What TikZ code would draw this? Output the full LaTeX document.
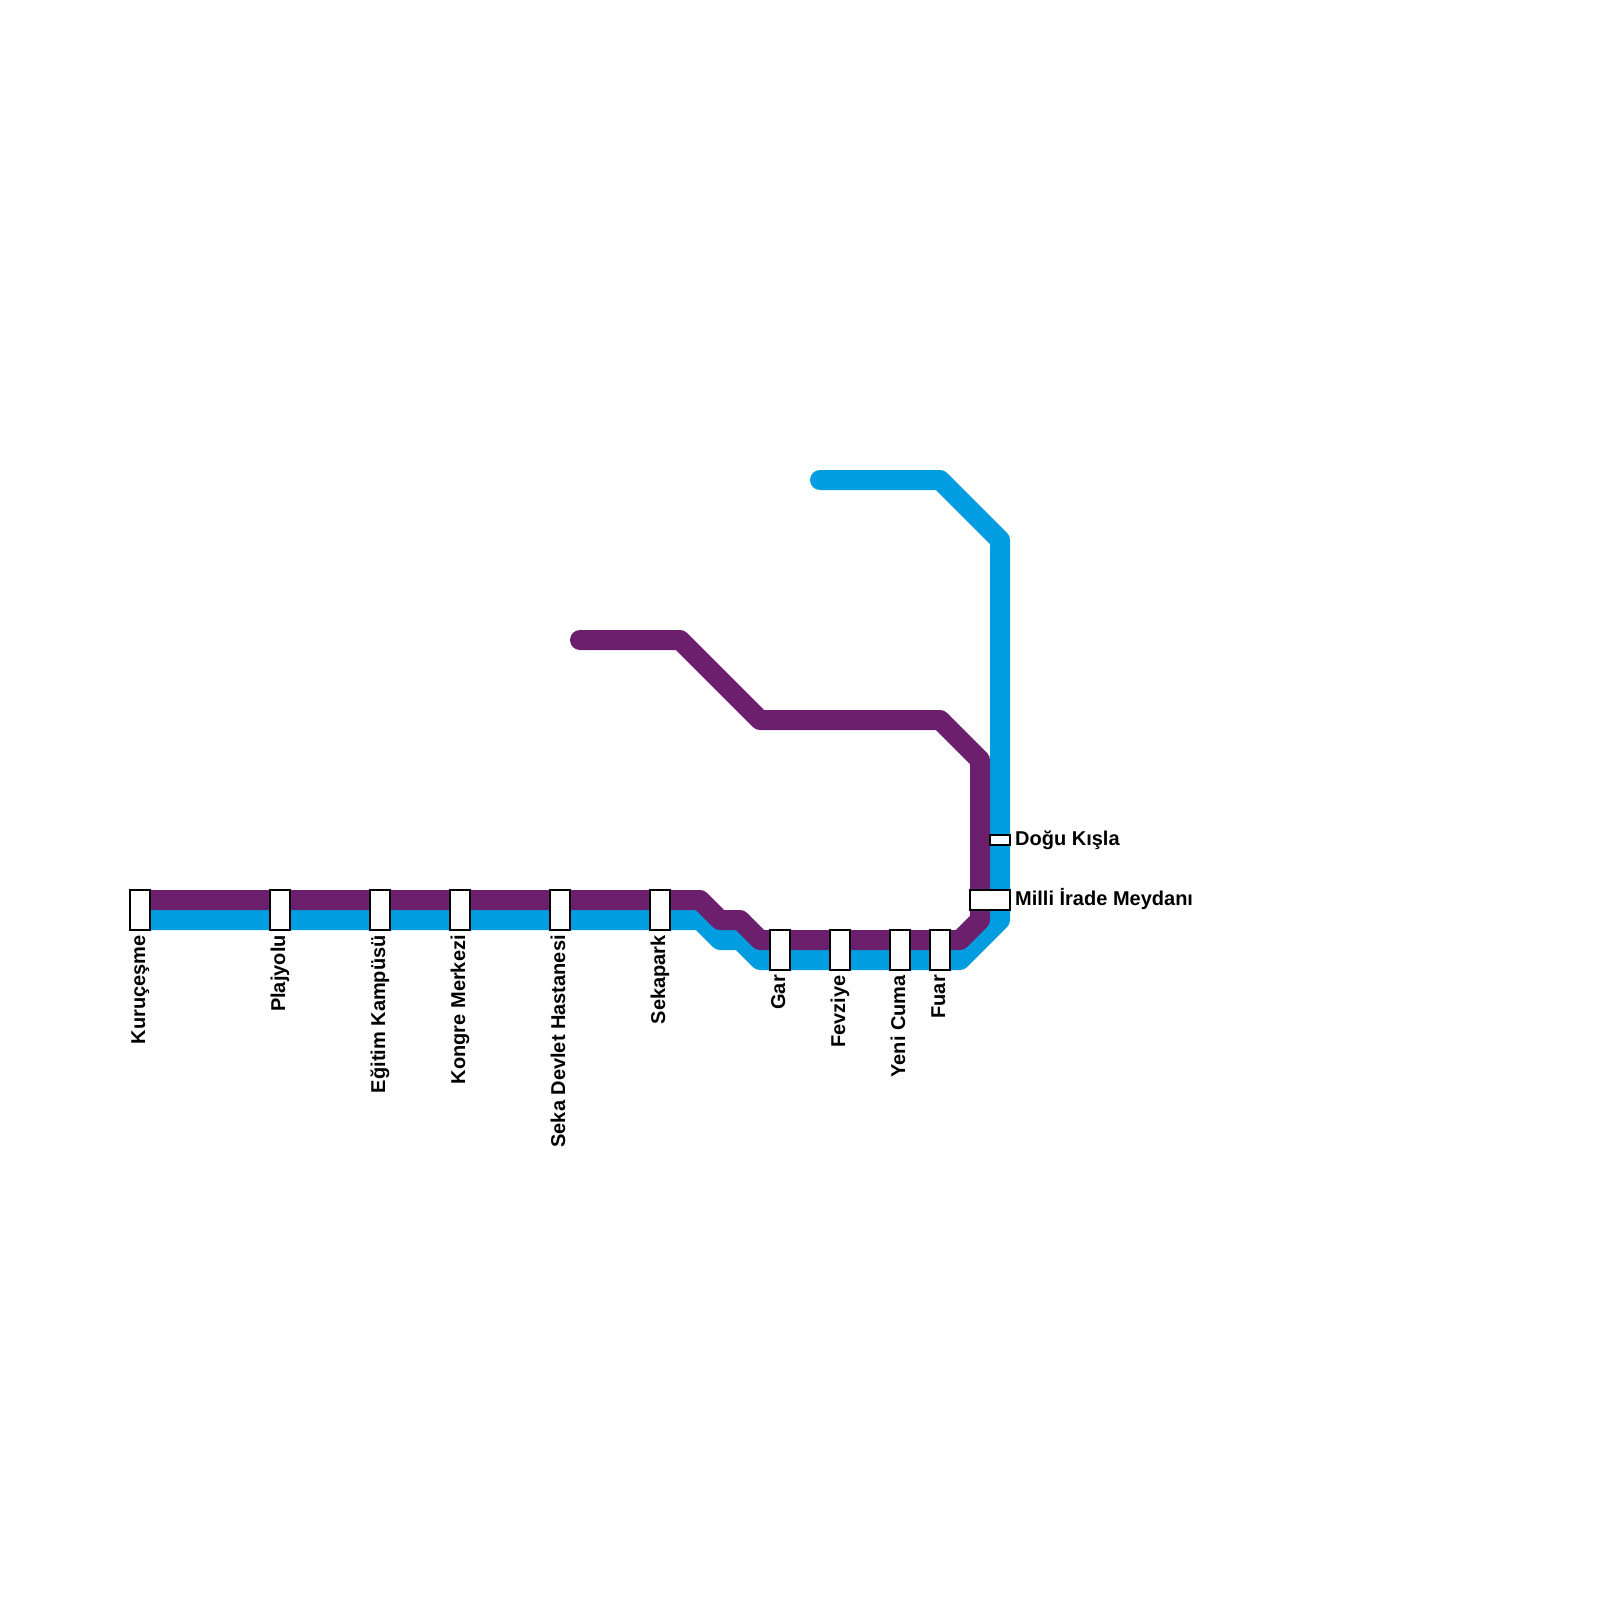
\documentclass[tikz,border=0pt]{standalone}
\usepackage{fontspec}
\setmainfont{Liberation Sans}
\definecolor{linepurple}{HTML}{6C1F6D}
\definecolor{lineblue}{HTML}{009EE0}
\tikzset{
  metro/.style={line width=20pt,line join=round,line cap=round},
  stationbox/.style={draw=black,fill=white,line width=2pt,minimum width=#1,inner sep=0pt,outer sep=0pt,rectangle},
  vlabel/.style={rotate=90,anchor=base east,inner sep=0pt,font=\bfseries\fontsize{20}{20}\selectfont},
  hlabel/.style={anchor=base west,inner sep=0pt,font=\bfseries\fontsize{20}{20}\selectfont}
}
\begin{document}
\begin{tikzpicture}[x=1pt,y=-1pt]
\useasboundingbox (0,0) rectangle (1600,1600);
\fill[white] (0,0) rectangle (1600,1600);
\foreach \n/\x/\y in {b1/820/480,b2/940/480,b3/1000/540,b4/1000/920,b5/960/960,b6/760/960,b7/740/940,b8/720/940,b9/700/920,b10/140/920,
  p1/580/640,p2/680/640,p3/760/720,p4/940/720,p5/980/760,p6/980/920,p7/960/940,p8/760/940,p9/740/920,p10/720/920,p11/700/900,p12/140/900}
  {\coordinate (\n) at (\x,\y);}
\draw[metro,lineblue] (b1)--(b2)--(b3)--(b4)--(b5)--(b6)--(b7)--(b8)--(b9)--(b10);
\draw[metro,linepurple] (p1)--(p2)--(p3)--(p4)--(p5)--(p6)--(p7)--(p8)--(p9)--(p10)--(p11)--(p12);
\foreach \n/\x/\y in {kur/140/910,pla/280/910,egi/380/910,kon/460/910,sek/560/910,spk/660/910,gar/780/950,fev/840/950,yen/900/950,fua/940/950}
  {\node[stationbox=20pt,minimum height=40pt] (\n) at (\x,\y) {};}
\node[stationbox=20pt,minimum height=10pt] (dog) at (1000,840) {};
\node[stationbox=40pt,minimum height=20pt] (mil) at (990,900) {};
\foreach \n/\x/\y/\t in {kur/145/935/Kuruçeşme,pla/285/935/Plajyolu,egi/385/935/Eğitim Kampüsü,kon/465/935/Kongre Merkezi,sek/565/935/Seka Devlet Hastanesi,spk/665/935/Sekapark,gar/785/975/Gar,fev/845/975/Fevziye,yen/905/975/Yeni Cuma,fua/945/975/Fuar}
  {\node[vlabel] (l\n) at (\x,\y) {\t};}
\node[hlabel] (ldog) at (1015,845) {Doğu Kışla};
\node[hlabel] (lmil) at (1015,905) {Milli İrade Meydanı};
\end{tikzpicture}
\end{document}
